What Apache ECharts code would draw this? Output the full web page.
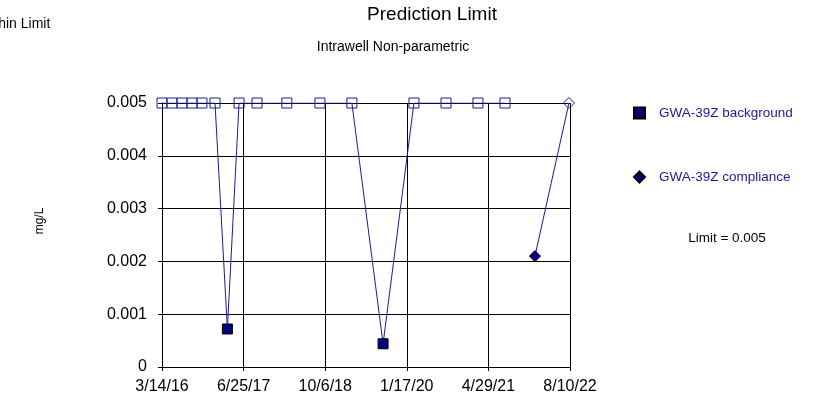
<!DOCTYPE html>
<html>
<head>
<meta charset="utf-8">
<script src="https://cdn.jsdelivr.net/npm/echarts@6/dist/echarts.min.js"></script>
<style>
html,body{margin:0;padding:0;background:#fff;}
#chart{width:818px;height:399px;}
</style>
</head>
<body>
<div id="chart"></div>
<script>
// ---- data ----
const bgDates = ['2016-03-14','2016-05-10','2016-07-07','2016-09-02','2016-10-29','2017-01-12','2017-03-24','2017-05-30','2017-09-10','2018-02-28','2018-09-06','2019-03-08','2019-09-03','2020-02-27','2020-08-29','2021-02-28','2021-08-02'];
const bgValues = [0.005,0.005,0.005,0.005,0.005,0.005,0.00072,0.005,0.005,0.005,0.005,0.005,0.00044,0.005,0.005,0.005,0.005];
const bgNonDetect = [true,true,true,true,true,true,false,true,true,true,true,true,false,true,true,true,true];
const cpDates = ['2022-01-21','2022-08-04'];
const cpValues = [0.0021,0.005];
const cpNonDetect = [false,true];
const xTickStart = '2016-03-14';
const xTickStepDays = 468;
const xTickCount = 5;
const yTicks = [0,0.001,0.002,0.003,0.004,0.005];
const limitValue = 0.005;
const seriesNames = ['GWA-39Z background','GWA-39Z compliance'];

const NAVY = '#1c1c96';
const FILL = '#000080';
const DAY = 86400000;
const t0 = Date.parse(xTickStart + 'T00:00:00Z');
function toDays(s){ return Math.round((Date.parse(s + 'T00:00:00Z') - t0) / DAY); }
function fmtDay(d){
  const dt = new Date(t0 + d * DAY);
  return (dt.getUTCMonth()+1) + '/' + dt.getUTCDate() + '/' + String(dt.getUTCFullYear()).slice(2);
}
function buildPoints(dates, values, nd){
  return dates.map((d,i)=>({
    value:[toDays(d), values[i]],
    itemStyle: nd[i] ? {color:'rgba(255,255,255,0)', borderColor:NAVY, borderWidth:1}
                     : {color:FILL, borderColor:'#000', borderWidth:1}
  }));
}
const FONT = 'Liberation Sans, Arial, sans-serif';

const chart = echarts.init(document.getElementById('chart'), null, {renderer:'canvas'});
chart.setOption({
  animation:false,
  backgroundColor:'#fff',
  textStyle:{fontFamily:FONT},
  grid:{left:162, right:248, top:103, bottom:32, containLabel:false},
  xAxis:{
    type:'value', min:0, max:xTickStepDays*xTickCount, interval:xTickStepDays,
    axisLine:{lineStyle:{color:'#000', width:1}},
    axisTick:{show:true, length:4, lineStyle:{color:'#000'}},
    axisLabel:{formatter:fmtDay, color:'#000', fontSize:16, margin:12, fontFamily:FONT, showMaxLabel:true, showMinLabel:true},
    splitLine:{show:true, lineStyle:{color:'#000', width:1}}
  },
  yAxis:{
    type:'value', min:yTicks[0], max:yTicks[yTicks.length-1], interval:yTicks[1]-yTicks[0],
    axisLine:{show:true, lineStyle:{color:'#000', width:1}},
    axisTick:{show:true, length:4, lineStyle:{color:'#000'}},
    axisLabel:{formatter:v=>String(+v.toFixed(3)), color:'#000', fontSize:16, margin:15, fontFamily:FONT},
    splitLine:{show:true, lineStyle:{color:'#000', width:1}}
  },
  legend:{
    orient:'vertical', left:628, top:101, itemWidth:11, itemHeight:11, itemGap:50,
    textStyle:{color:NAVY, fontSize:13.5, fontFamily:FONT, padding:[0,0,0,9]},
    data:[{name:seriesNames[0], icon:'rect'},{name:seriesNames[1], icon:'diamond'}],
    selectedMode:false
  },
  graphic:[
    {type:'text', left:-22, top:17, style:{text:'Within Limit', fontSize:14, fontFamily:FONT, fill:'#000'}},
    {type:'text', x:432, y:15, style:{text:'Prediction Limit', fontSize:19, fontFamily:FONT, fill:'#000', align:'center', verticalAlign:'middle'}},
    {type:'text', x:393, y:47, style:{text:'Intrawell Non-parametric', fontSize:14, fontFamily:FONT, fill:'#000', align:'center', verticalAlign:'middle'}},
    {type:'text', x:40, y:221, rotation:Math.PI/2, style:{text:'mg/L', fontSize:12, fontFamily:FONT, fill:'#000', align:'center', verticalAlign:'middle'}},
    {type:'text', x:727, y:238, style:{text:'Limit = ' + limitValue, fontSize:13.5, fontFamily:FONT, fill:'#000', align:'center', verticalAlign:'middle'}}
  ],
  series:[
    {
      name:seriesNames[0], type:'line', symbol:'rect', symbolSize:10,
      itemStyle:{color:FILL, borderColor:'#000', borderWidth:1},
      lineStyle:{color:NAVY, width:1},
      data:buildPoints(bgDates, bgValues, bgNonDetect),
      z:3,
      markLine:{silent:true, symbol:'none', label:{show:false}, lineStyle:{color:'#000', width:2, type:'solid'},
        data:[{yAxis:limitValue}], z:2}
    },
    {
      name:seriesNames[1], type:'line', symbol:'diamond', symbolSize:11,
      itemStyle:{color:FILL, borderColor:'#000', borderWidth:1},
      lineStyle:{color:NAVY, width:1},
      data:buildPoints(cpDates, cpValues, cpNonDetect),
      z:3
    }
  ]
});
</script>
</body>
</html>
